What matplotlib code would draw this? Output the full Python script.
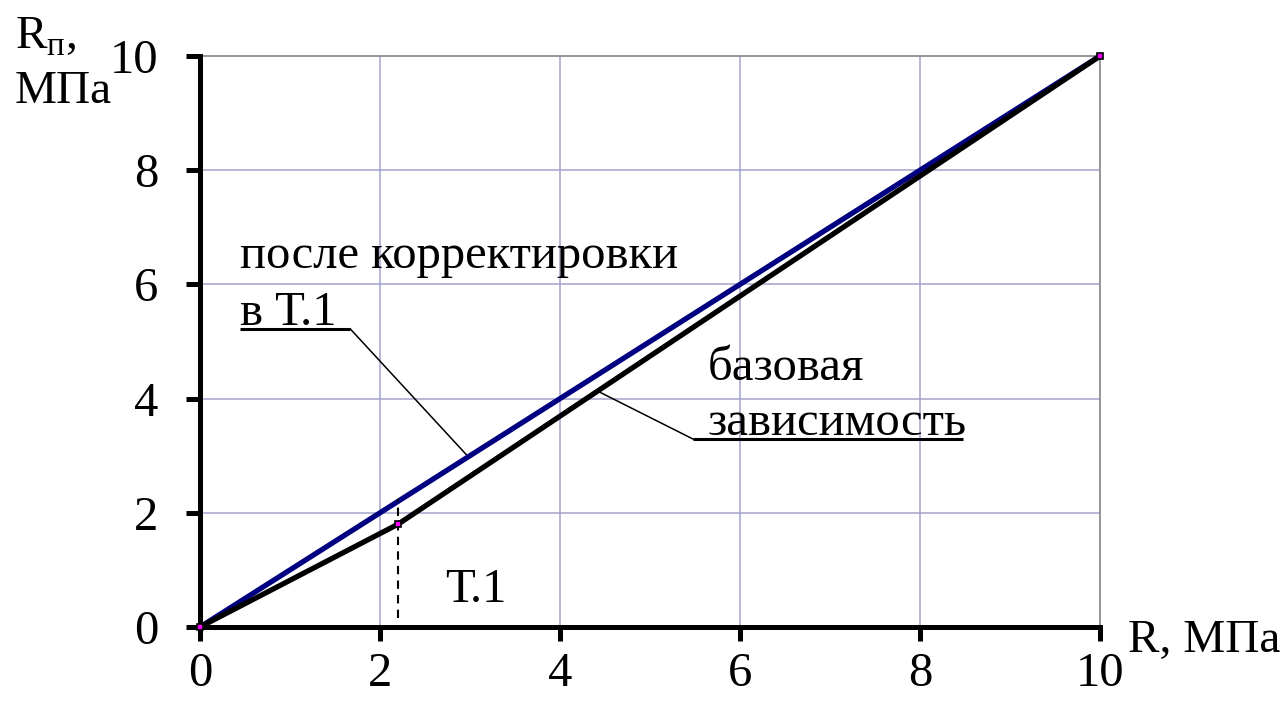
import matplotlib
matplotlib.use("Agg")
import matplotlib.pyplot as plt

plt.rcParams['font.family'] = ['Liberation Serif', 'DejaVu Serif']
plt.rcParams['mathtext.fontset'] = 'custom'
plt.rcParams['mathtext.rm'] = 'Liberation Serif'

# Data
base_x = [0, 2.2, 10]
base_y = [0, 1.8, 10]
corr_x = [0, 2.2, 10]
corr_y = [0, 2.2, 10]
pts_x = [0, 2.2, 10]
pts_y = [0, 1.8, 10]
t1_x = 2.2
t1_dash = [0.15, 2.25]
ticks = [0, 2, 4, 6, 8, 10]
tick_labels = ['0', '2', '4', '6', '8', '10']

W, H = 1286, 706
fig = plt.figure(figsize=(W / 100, H / 100), dpi=100)
ax = fig.add_axes([200 / W, (H - 627) / H, 900 / W, 571 / H])
ax.set_xlim(0, 10)
ax.set_ylim(0, 10)

grid_c = '#a4a4cc'
for t in ticks[1:-1]:
    ax.axvline(t, color=grid_c, lw=1.1, zorder=1)
    ax.axhline(t, color=grid_c, lw=1.1, zorder=1)

for s in ['top', 'right']:
    ax.spines[s].set_color('#8c8c8c')
    ax.spines[s].set_linewidth(1.3)
for s in ['left', 'bottom']:
    ax.spines[s].set_color('black')
    ax.spines[s].set_linewidth(3.6)
    ax.spines[s].set_zorder(5)

ax.set_xticks(ticks)
ax.set_yticks(ticks)
ax.set_xticklabels(tick_labels)
ax.set_yticklabels(tick_labels)
ax.tick_params(direction='out', length=10, width=3.6, labelsize=35, colors='black')
ax.tick_params(axis='y', pad=20)
ax.tick_params(axis='x', pad=8)

ax.plot(corr_x, corr_y, color='#000080', lw=3.8, zorder=3, solid_capstyle='butt', clip_on=False)
ax.plot(base_x, base_y, color='black', lw=3.8, zorder=4, solid_capstyle='butt', clip_on=False)
ax.plot(pts_x, pts_y, ls='none', marker='s', ms=5, mfc='#ff00ff', mec='black', mew=1.2,
        zorder=6, clip_on=False)
ax.plot([t1_x, t1_x], t1_dash, color='black', lw=1.5, ls=(0, (4, 3)), zorder=3)

fs = 35
ax.text(0.44, 6.29, 'после корректировки', fontsize=fs, va='baseline', ha='left')
ax.text(0.44, 5.29, 'в Т.1', fontsize=fs, va='baseline', ha='left')
ax.plot([0.44, 1.67], [5.22, 5.22], color='black', lw=2.2, solid_capstyle='butt')
ax.plot([1.67, 2.97], [5.22, 3.0], color='black', lw=1.1)

ax.text(5.64, 4.33, 'базовая', fontsize=fs, va='baseline', ha='left')
ax.text(5.64, 3.36, 'зависимость', fontsize=fs, va='baseline', ha='left')
ax.plot([5.48, 8.48], [3.29, 3.29], color='black', lw=2.2, solid_capstyle='butt')
ax.plot([5.48, 4.42], [3.29, 4.13], color='black', lw=1.1)

ax.text(2.72, 0.44, 'Т.1', fontsize=fs, va='baseline', ha='left')

fig.text(15 / W, 1 - 48 / H, r'R$_{\mathregular{п}}$,', fontsize=34, va='baseline', ha='left')
fig.text(15 / W, 1 - 103 / H, 'МПа', fontsize=34, va='baseline', ha='left')
fig.text(1128 / W, 1 - 652 / H, 'R, МПа', fontsize=34, va='baseline', ha='left')

fig.savefig('out.png', dpi=100)
